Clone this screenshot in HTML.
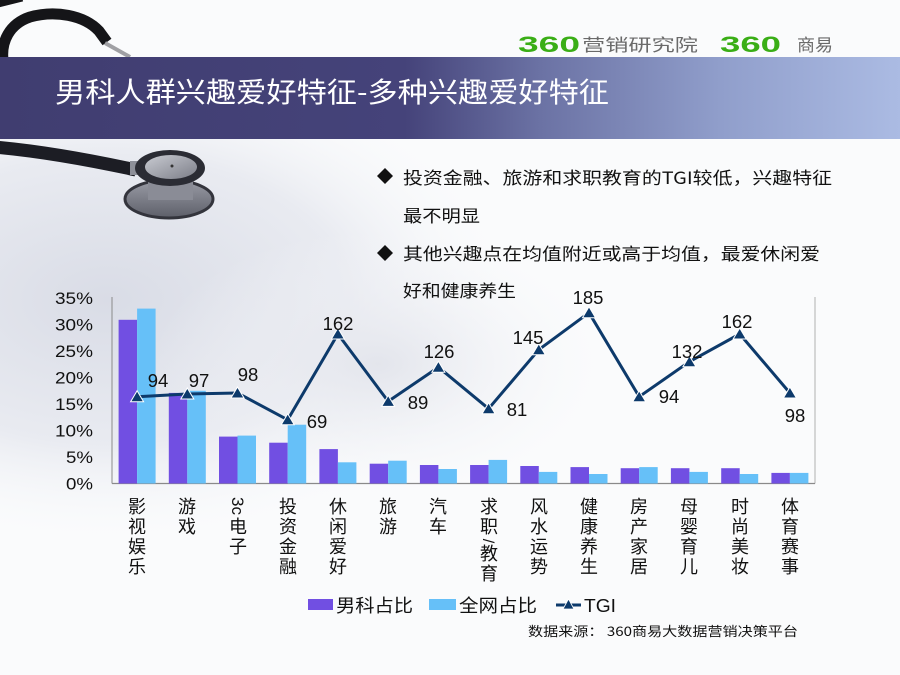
<!DOCTYPE html>
<html><head><meta charset="utf-8"><style>
html,body{margin:0;padding:0;background:#fff;}
svg{display:block;}
text{font-family:"Liberation Sans","Noto Sans CJK SC",sans-serif;}
.cjk{font-family:"Noto Sans CJK SC","WenQuanYi Zen Hei",sans-serif;}
</style></head><body>
<svg width="900" height="675" viewBox="0 0 900 675" xmlns="http://www.w3.org/2000/svg">
<defs>
<linearGradient id="ban" x1="0" y1="0" x2="1" y2="0">
<stop offset="0" stop-color="#403d70"/>
<stop offset="0.45" stop-color="#45437a"/>
<stop offset="0.6" stop-color="#6b72a4"/>
<stop offset="0.8" stop-color="#909ecb"/>
<stop offset="1" stop-color="#abbbe3"/>
</linearGradient>
<radialGradient id="bg1" cx="0.12" cy="0.3" r="0.45">
<stop offset="0" stop-color="#d9dce6"/>
<stop offset="0.6" stop-color="#e9ebf1"/>
<stop offset="1" stop-color="#f8f9fb" stop-opacity="0"/>
</radialGradient>
<radialGradient id="bg2" cx="0.42" cy="0.42" r="0.25">
<stop offset="0" stop-color="#e3e5ec"/>
<stop offset="1" stop-color="#f5f6f9" stop-opacity="0"/>
</radialGradient>
<linearGradient id="metal" x1="0" y1="0" x2="1" y2="1">
<stop offset="0" stop-color="#c9cbd2"/>
<stop offset="1" stop-color="#7c7e88"/>
</linearGradient>
<linearGradient id="disc" x1="0" y1="0" x2="0" y2="1">
<stop offset="0" stop-color="#9a9ca6"/>
<stop offset="1" stop-color="#5d5f69"/>
</linearGradient>
</defs>

<!-- background -->
<rect x="0" y="0" width="900" height="675" fill="#fafbfc"/>
<rect x="0" y="139" width="900" height="536" fill="url(#bg1)"/>
<rect x="0" y="139" width="900" height="536" fill="url(#bg2)"/>

<!-- top-left stethoscope tubes -->
<path d="M3,60 C 1,42 9,24 30,17 C 55,10 84,15 99,31 L 107,42" stroke="#151518" stroke-width="11" fill="none"/>
<path d="M-2,3 L 22,-3" stroke="#151518" stroke-width="9" fill="none"/>
<line x1="105" y1="43" x2="130" y2="57" stroke="#a0a0a4" stroke-width="4"/>

<!-- logo -->
<text x="518" y="52" font-size="22" font-weight="bold" fill="#3aae16" textLength="62" lengthAdjust="spacingAndGlyphs">360</text>
<text x="582" y="51" class="cjk" font-size="17" fill="#6a6a6a" textLength="116" lengthAdjust="spacingAndGlyphs">营销研究院</text>
<text x="720" y="52" font-size="22" font-weight="bold" fill="#3aae16" textLength="61" lengthAdjust="spacingAndGlyphs">360</text>
<text x="797" y="51" class="cjk" font-size="17" fill="#6a6a6a" textLength="36" lengthAdjust="spacingAndGlyphs">商易</text>

<!-- banner -->
<rect x="0" y="57" width="900" height="82" fill="url(#ban)"/>
<text x="55" y="102" class="cjk" font-size="28" fill="#ffffff" textLength="554" lengthAdjust="spacingAndGlyphs">男科人群兴趣爱好特征-多种兴趣爱好特征</text>

<!-- lower stethoscope -->
<path d="M-6,147 C 40,151 90,160 136,170" stroke="#1c1d24" stroke-width="13" fill="none"/>
<rect x="130" y="161" width="18" height="14" fill="#8d8f98"/>
<ellipse cx="169" cy="199" rx="44" ry="19" fill="url(#disc)" stroke="#33343c" stroke-width="3"/>
<rect x="148" y="176" width="45" height="24" fill="#8a8c96"/>
<ellipse cx="170" cy="168" rx="35" ry="18" fill="#2b2c34"/>
<ellipse cx="171" cy="167" rx="26" ry="12" fill="url(#metal)"/>
<circle cx="172" cy="166" r="1.5" fill="#333"/>

<!-- bullets -->
<polygon points="385,168 393,176 385,184 377,176" fill="#111"/>
<text x="403" y="184" class="cjk" font-size="17" fill="#111" textLength="429" lengthAdjust="spacingAndGlyphs">投资金融、旅游和求职教育的TGI较低，兴趣特征</text>
<text x="403" y="222" class="cjk" font-size="17" fill="#111" textLength="77" lengthAdjust="spacingAndGlyphs">最不明显</text>
<polygon points="385,245 393,253 385,261 377,253" fill="#111"/>
<text x="403" y="260" class="cjk" font-size="17" fill="#111" textLength="417" lengthAdjust="spacingAndGlyphs">其他兴趣点在均值附近或高于均值，最爱休闲爱</text>
<text x="403" y="297" class="cjk" font-size="17" fill="#111" textLength="113" lengthAdjust="spacingAndGlyphs">好和健康养生</text>

<!-- axes -->
<line x1="112" y1="297" x2="112" y2="483.5" stroke="#8a8a8a" stroke-width="1"/>
<line x1="815" y1="297" x2="815" y2="483.5" stroke="#b0b0b0" stroke-width="1"/>
<line x1="112" y1="483.5" x2="815" y2="483.5" stroke="#8a8a8a" stroke-width="1.2"/>

<!-- y labels -->
<g font-size="17" fill="#111" text-anchor="end">
<text x="93" y="304" textLength="38" lengthAdjust="spacingAndGlyphs">35%</text>
<text x="93" y="330.5" textLength="38" lengthAdjust="spacingAndGlyphs">30%</text>
<text x="93" y="357" textLength="38" lengthAdjust="spacingAndGlyphs">25%</text>
<text x="93" y="383.5" textLength="38" lengthAdjust="spacingAndGlyphs">20%</text>
<text x="93" y="410" textLength="38" lengthAdjust="spacingAndGlyphs">15%</text>
<text x="93" y="436.5" textLength="38" lengthAdjust="spacingAndGlyphs">10%</text>
<text x="93" y="463" textLength="27" lengthAdjust="spacingAndGlyphs">5%</text>
<text x="93" y="489.5" textLength="27" lengthAdjust="spacingAndGlyphs">0%</text>
</g>

<!-- bars purple -->
<g fill="#714fe2">
<rect x="118.6" y="319.8" width="18.5" height="163.7"/>
<rect x="168.8" y="392.9" width="18.5" height="90.6"/>
<rect x="219.0" y="436.6" width="18.5" height="46.9"/>
<rect x="269.2" y="442.7" width="18.5" height="40.8"/>
<rect x="319.4" y="449.1" width="18.5" height="34.4"/>
<rect x="369.7" y="463.7" width="18.5" height="19.8"/>
<rect x="419.9" y="465.0" width="18.5" height="18.5"/>
<rect x="470.1" y="465.0" width="18.5" height="18.5"/>
<rect x="520.3" y="466.0" width="18.5" height="17.5"/>
<rect x="570.5" y="467.1" width="18.5" height="16.4"/>
<rect x="620.7" y="468.2" width="18.5" height="15.3"/>
<rect x="670.9" y="468.2" width="18.5" height="15.3"/>
<rect x="721.2" y="468.2" width="18.5" height="15.3"/>
<rect x="771.4" y="472.9" width="18.5" height="10.6"/>
</g>
<!-- bars blue -->
<g fill="#66c0f8">
<rect x="137.1" y="308.6" width="18.5" height="174.9"/>
<rect x="187.3" y="390.8" width="18.5" height="92.7"/>
<rect x="237.5" y="435.6" width="18.5" height="47.9"/>
<rect x="287.7" y="424.7" width="18.5" height="58.8"/>
<rect x="337.9" y="462.3" width="18.5" height="21.2"/>
<rect x="388.2" y="460.7" width="18.5" height="22.8"/>
<rect x="438.4" y="469.0" width="18.5" height="14.5"/>
<rect x="488.6" y="459.9" width="18.5" height="23.6"/>
<rect x="538.8" y="471.9" width="18.5" height="11.6"/>
<rect x="589.0" y="474.0" width="18.5" height="9.5"/>
<rect x="639.2" y="467.1" width="18.5" height="16.4"/>
<rect x="689.4" y="471.9" width="18.5" height="11.6"/>
<rect x="739.7" y="474.0" width="18.5" height="9.5"/>
<rect x="789.9" y="472.9" width="18.5" height="10.6"/>
</g>

<!-- TGI line -->
<polyline fill="none" stroke="#0d3a6b" stroke-width="3" stroke-linejoin="round"
points="137.1,396.7 187.3,394.0 237.5,393.0 287.7,419.8 337.9,334.0 388.2,401.4 438.4,367.2 488.6,408.7 538.8,349.7 589.0,312.7 639.2,396.7 689.4,361.7 739.7,334.0 789.9,393.0"/>
<g fill="#0d3a6b" stroke="#ffffff" stroke-width="1">
<path d="M137.1,390.7 L143.6,401.7 L130.6,401.7 Z"/>
<path d="M187.3,388.0 L193.8,399.0 L180.8,399.0 Z"/>
<path d="M237.5,387.0 L244.0,398.0 L231.0,398.0 Z"/>
<path d="M287.7,413.8 L294.2,424.8 L281.2,424.8 Z"/>
<path d="M337.9,328.0 L344.4,339.0 L331.4,339.0 Z"/>
<path d="M388.2,395.4 L394.7,406.4 L381.7,406.4 Z"/>
<path d="M438.4,361.2 L444.9,372.2 L431.9,372.2 Z"/>
<path d="M488.6,402.7 L495.1,413.7 L482.1,413.7 Z"/>
<path d="M538.8,343.7 L545.3,354.7 L532.3,354.7 Z"/>
<path d="M589.0,306.7 L595.5,317.7 L582.5,317.7 Z"/>
<path d="M639.2,390.7 L645.7,401.7 L632.7,401.7 Z"/>
<path d="M689.4,355.7 L695.9,366.7 L682.9,366.7 Z"/>
<path d="M739.7,328.0 L746.2,339.0 L733.2,339.0 Z"/>
<path d="M789.9,387.0 L796.4,398.0 L783.4,398.0 Z"/>
</g>

<!-- TGI labels -->
<g font-size="18.5" fill="#111" text-anchor="middle">
<text x="158" y="387">94</text>
<text x="199" y="387">97</text>
<text x="248" y="381">98</text>
<text x="317" y="428">69</text>
<text x="338" y="330">162</text>
<text x="418" y="409">89</text>
<text x="439" y="358">126</text>
<text x="517" y="416">81</text>
<text x="528" y="344">145</text>
<text x="588" y="304">185</text>
<text x="669" y="403">94</text>
<text x="687" y="358">132</text>
<text x="737" y="328">162</text>
<text x="795" y="422">98</text>
</g>

<!-- x labels -->
<g class="cjk" font-size="18" fill="#111" text-anchor="middle">
<text x="137" y="513">影</text><text x="137" y="533">视</text><text x="137" y="553">娱</text><text x="137" y="573">乐</text>
<text x="187" y="513">游</text><text x="187" y="533">戏</text>
<text x="238" y="533">电</text><text x="238" y="553">子</text>
<text x="288" y="513">投</text><text x="288" y="533">资</text><text x="288" y="553">金</text><text x="288" y="573">融</text>
<text x="338" y="513">休</text><text x="338" y="533">闲</text><text x="338" y="553">爱</text><text x="338" y="573">好</text>
<text x="388" y="513">旅</text><text x="388" y="533">游</text>
<text x="438" y="513">汽</text><text x="438" y="533">车</text>
<text x="489" y="513">求</text><text x="489" y="533">职</text><text x="489" y="560">教</text><text x="489" y="580">育</text>
<text x="539" y="513">风</text><text x="539" y="533">水</text><text x="539" y="553">运</text><text x="539" y="573">势</text>
<text x="589" y="513">健</text><text x="589" y="533">康</text><text x="589" y="553">养</text><text x="589" y="573">生</text>
<text x="639" y="513">房</text><text x="639" y="533">产</text><text x="639" y="553">家</text><text x="639" y="573">居</text>
<text x="689" y="513">母</text><text x="689" y="533">婴</text><text x="689" y="553">育</text><text x="689" y="573">儿</text>
<text x="740" y="513">时</text><text x="740" y="533">尚</text><text x="740" y="553">美</text><text x="740" y="573">妆</text>
<text x="790" y="513">体</text><text x="790" y="533">育</text><text x="790" y="553">赛</text><text x="790" y="573">事</text>
</g>
<text x="0" y="0" font-size="17" fill="#111" text-anchor="middle" transform="translate(232,506) rotate(90)">3c</text>
<text x="0" y="0" font-size="16" fill="#111" text-anchor="middle" transform="translate(483,541) rotate(90)">/</text>

<!-- legend -->
<rect x="308" y="599" width="25" height="11" fill="#714fe2"/>
<text x="336" y="612" class="cjk" font-size="18" fill="#111" textLength="77" lengthAdjust="spacingAndGlyphs">男科占比</text>
<rect x="429" y="599" width="27" height="11" fill="#66c0f8"/>
<text x="459" y="612" class="cjk" font-size="18" fill="#111" textLength="78" lengthAdjust="spacingAndGlyphs">全网占比</text>
<line x1="556" y1="605" x2="581" y2="605" stroke="#0d3a6b" stroke-width="3"/>
<path d="M568.5,599 L574,609 L563,609 Z" fill="#0d3a6b" stroke="#fff" stroke-width="0.8"/>
<text x="584" y="612" font-size="18" fill="#111" textLength="32" lengthAdjust="spacingAndGlyphs">TGI</text>

<!-- source -->
<text x="528" y="636" class="cjk" font-size="13" fill="#111" textLength="270" lengthAdjust="spacingAndGlyphs">数据来源：  360商易大数据营销决策平台</text>
</svg>
</body></html>
